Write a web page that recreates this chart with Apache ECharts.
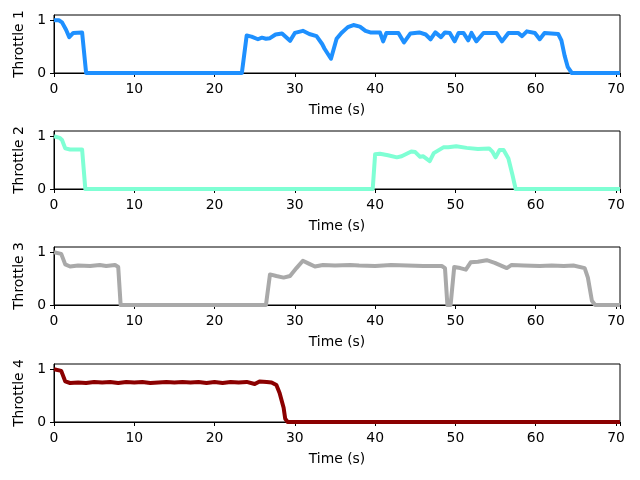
<!DOCTYPE html>
<html>
<head>
<meta charset="utf-8">
<script src="https://cdn.jsdelivr.net/npm/echarts@6/dist/echarts.min.js"></script>
<style>html,body{margin:0;padding:0;background:#fff}#c{width:640px;height:480px}</style>
</head>
<body>
<div id="c"></div>
<script>
const yLabels = ['Throttle 1', 'Throttle 2', 'Throttle 3', 'Throttle 4'];
const xLabel = 'Time (s)';
const xTicks = [0, 10, 20, 30, 40, 50, 60, 70];
const yTicks = [0, 1];
const colors = ['#1E90FF', '#7FFFD4', '#A9A9A9', '#8B0000'];

const throttle1 = [[0,1.0],[0.6,1.0],[1.0,0.96],[1.5,0.82],[1.9,0.68],[2.4,0.76],[3.5,0.77],[4.0,0],[23.4,0],[24.0,0.71],[24.6,0.69],[25.4,0.64],[25.9,0.67],[26.4,0.65],[26.9,0.66],[27.6,0.73],[28.4,0.75],[29.4,0.61],[30.0,0.76],[31.0,0.8],[31.8,0.74],[32.7,0.70],[33.4,0.55],[33.7,0.46],[34.5,0.27],[35.2,0.65],[35.8,0.76],[36.6,0.87],[37.3,0.91],[38.1,0.88],[38.8,0.80],[39.4,0.77],[40.6,0.77],[41.0,0.60],[41.4,0.76],[42.9,0.76],[43.6,0.58],[44.4,0.75],[45.5,0.77],[46.3,0.73],[46.9,0.64],[47.5,0.77],[48.2,0.68],[48.7,0.77],[49.3,0.76],[49.9,0.60],[50.4,0.76],[51.0,0.76],[51.6,0.62],[52.0,0.76],[52.6,0.60],[53.5,0.76],[55.1,0.76],[55.8,0.60],[56.6,0.76],[57.8,0.76],[58.3,0.70],[58.9,0.79],[59.9,0.76],[60.5,0.64],[61.1,0.76],[62.8,0.74],[63.2,0.62],[63.6,0.33],[64.0,0.11],[64.5,0],[70.5,0]];
const throttle2 = [[0,1.0],[0.7,0.97],[1.0,0.93],[1.4,0.77],[2.0,0.75],[3.5,0.75],[3.9,0],[39.7,0],[40.0,0.66],[40.6,0.67],[41.6,0.64],[42.7,0.60],[43.3,0.62],[44.5,0.71],[45.0,0.70],[45.6,0.61],[46.0,0.62],[46.8,0.53],[47.3,0.68],[48.5,0.79],[49.1,0.79],[50.1,0.81],[51.4,0.78],[52.8,0.76],[54.2,0.77],[54.6,0.71],[55.0,0.60],[55.5,0.74],[56.0,0.74],[56.6,0.58],[57.1,0.27],[57.5,0],[70.5,0]];
const throttle3 = [[0,1.0],[0.9,0.97],[1.4,0.77],[2.0,0.73],[3.0,0.75],[4.5,0.74],[5.7,0.76],[6.5,0.74],[7.6,0.76],[8.0,0.72],[8.3,0],[26.4,0],[26.9,0.58],[27.7,0.55],[28.6,0.52],[29.4,0.55],[30.2,0.70],[31.0,0.84],[31.8,0.78],[32.5,0.73],[33.5,0.76],[35,0.75],[36.9,0.76],[38,0.75],[40,0.74],[42,0.76],[44,0.75],[46,0.74],[48.3,0.74],[48.7,0.70],[49.0,0],[49.4,0],[49.85,0.72],[50.6,0.70],[51.3,0.67],[51.9,0.81],[52.8,0.82],[53.9,0.85],[54.9,0.80],[56.4,0.70],[57.0,0.76],[58.5,0.75],[60.5,0.74],[62,0.75],[63.5,0.74],[64.7,0.75],[66.1,0.70],[66.5,0.52],[67.0,0.08],[67.4,0],[70.5,0]];
const throttle4 = [[0,1.0],[0.9,0.97],[1.4,0.77],[2.0,0.74],[3,0.75],[4,0.74],[5,0.76],[6,0.75],[7,0.76],[8,0.74],[9,0.76],[10,0.75],[11,0.76],[12,0.74],[13,0.75],[14,0.76],[15,0.75],[16,0.76],[17,0.75],[18,0.76],[19,0.74],[20,0.76],[21,0.74],[22,0.76],[23,0.75],[24,0.76],[25,0.72],[25.6,0.77],[26.5,0.76],[27.1,0.75],[27.7,0.70],[28.1,0.55],[28.6,0.27],[28.8,0.06],[29.1,0],[70.5,0]];
const seriesData = [throttle1, throttle2, throttle3, throttle4];

const tops = [15, 131, 247, 364];
const font = 'DejaVu Sans';
const grids = [], xAxes = [], yAxes = [], series = [];
for (let i = 0; i < 4; i++) {
  grids.push({left: 54, right: 20, top: tops[i], height: 58, show: true, borderColor: '#000', borderWidth: 1, backgroundColor: 'transparent', containLabel: false});
  xAxes.push({
    type: 'value', gridIndex: i, min: 0, max: 70.5, interval: 10,
    name: xLabel, nameLocation: 'middle', nameGap: 30,
    nameTextStyle: {color: '#000', fontFamily: font, fontSize: 13.9},
    axisLine: {show: true, onZero: false, lineStyle: {color: '#000', width: 1}},
    axisTick: {show: true, inside: false, length: 4, lineStyle: {color: '#000', width: 1}},
    axisLabel: {color: '#000', fontFamily: font, fontSize: 13.9, margin: 9,
      formatter: v => xTicks.includes(v) ? String(v) : ''},
    splitLine: {show: false}
  });
  yAxes.push({
    type: 'value', gridIndex: i, min: 0, max: 1.1, interval: 1,
    name: yLabels[i], nameLocation: 'middle', nameGap: 22, nameRotate: 90,
    nameTextStyle: {color: '#000', fontFamily: font, fontSize: 13.9},
    axisLine: {show: true, onZero: false, lineStyle: {color: '#000', width: 1}},
    axisTick: {show: true, inside: false, length: 4, lineStyle: {color: '#000', width: 1},
      customValues: yTicks},
    axisLabel: {color: '#000', fontFamily: font, fontSize: 13.9, margin: 8,
      customValues: yTicks, formatter: v => yTicks.includes(v) ? String(v) : ''},
    splitLine: {show: false}
  });
  series.push({
    type: 'line', xAxisIndex: i, yAxisIndex: i, data: seriesData[i],
    showSymbol: false, symbol: 'none', animation: false,
    lineStyle: {color: colors[i], width: 4, cap: 'butt', join: 'round'},
    clip: true
  });
}
const chart = echarts.init(document.getElementById('c'), null, {renderer: 'canvas'});
chart.setOption({animation: false, backgroundColor: '#fff', grid: grids, xAxis: xAxes, yAxis: yAxes, series: series});
</script>
</body>
</html>
